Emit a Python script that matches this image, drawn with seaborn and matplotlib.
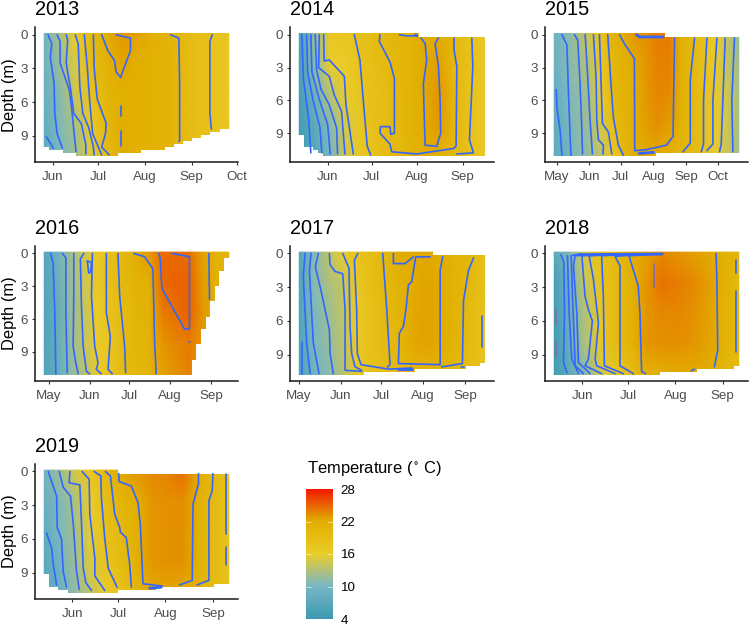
import numpy as np
import matplotlib
matplotlib.use("Agg")
import matplotlib.pyplot as plt
from matplotlib.colors import LinearSegmentedColormap, Normalize
from matplotlib.cm import ScalarMappable
import seaborn as sns

# ---------- DATA ----------
# temps: one column per survey date, values at surface / 3 / 5.5 / 8 / bottom
temps_2013 = [[9.5,9,8.5,8,7.5],[12.5,11.6,10.7,10.4,10],[16,15,14.5,12.5,12],[19.5,19,18,16.5,15],
              [21.5,21,20.5,20,19],[23,22.3,21.8,22,22],[22.5,21.8,21.6,21.6,21.6],[21.7,21.5,21.5,21.5,21.5],
              [20.8,21,21,21,21],[19.8,19.8,19.8,19.8,19.8],[18.8,18.8,18.8,18.8,18.8],[17.9,17.9,17.9,17.9,17.9],[17,17,17,17,17]]
temps_2014 = [[5.5,5.3,5,4.8,4.8],[11.5,11,8.8,7.3,6.8],[17,16,13.3,10.6,9.8],[17.3,16.3,16,15,14.6],
              [18.2,18,17.5,17.2,16.9],[19.6,19,18.7,18.6,18.4],[20.3,20.1,19.8,19.7,19.6],[21,20.8,20.7,20.6,20.5],
              [22,22,22,22,21.9],[22,22.6,23,22.8,21.5],[20.2,20.2,20.4,20.4,20.2],[18.1,18.2,18.3,18.2,18.1],[17,17,17,17,17]]
temps_2015 = [[9,8.8,8,7.7,7.5],[10.6,10.4,10,9.4,8.7],[12.3,11.6,11.2,11,10.7],[14.5,13.4,12.2,11.9,11.5],
              [18,16.8,16,14.8,13.7],[20.8,20.2,20,18.5,16.8],[22,21.4,21,20.9,20],[23,22,22,22,22],
              [23.3,23,22.9,22.7,22],[24,23.8,23.6,23.3,22],[24,23.8,23.4,22.6,21.3],[21.5,21.4,21.3,21.2,20.5],
              [20,20,20,20,19.6],[18,18.2,18.2,18.2,17.7],[16,16.3,16.5,16.5,15.8],[13.7,14.2,14.5,14.5,14.3],[11.5,12,12.5,12.5,12]]
temps_2016 = [[6.5,6.5,6.3,6.2,6.2],[9,8.3,8,7.9,8],[12,11.7,11.5,11.5,11],[14.5,14.3,14,13.8,13.2],
              [16.7,16.5,16.2,16.1,16.3],[18.6,18.4,18,17.5,17.5],[20.2,20,19.8,19.7,19.6],[22,21,20.6,20.5,20.3],
              [22.9,21.9,21.4,21.2,21],[24.8,24.8,24,23,22.5],[24.8,25,24.6,23.6,23.2],[24.6,25,25,24,23.8],
              [22.5,22.7,23,23,23],[21.4,21.5,21.5,21.5,21.5],[20.6,20.6,20.6,20.6,20.6]]
temps_2017 = [[6.5,6.3,6.2,6,5.8],[10.5,10.6,10.2,10,8.9],[13.5,12.7,11.8,11.5,10.8],[15.9,13.9,13.7,13.3,13],
              [18,16.8,16.5,16.5,16.9],[19,18.7,18.5,18.5,18.2],[20.2,19.9,19.7,19.4,19.2],[22,21.1,20.7,20.3,20.1],
              [22.2,22,22.2,22.2,20.3],[22.2,22.4,22.5,22.5,20.5],[22,22,22,22,20.5],[21,21,21,21,20],
              [20.1,19.9,19.5,19.2,19.2],[18.8,18.5,18,18,18]]
temps_2018 = [[7,5,5,4.5,4.6],[10.3,9.5,8.8,8.4,7.5],[15,14.2,13,12.9,11],[18.1,17.7,16.9,17,14.5],
              [20.1,19.5,19.6,19.5,17],[21.5,21.2,21,21,19],[22.5,23,23,23,21],[23.5,24.5,23.5,23.2,21.5],
              [23,24,23.5,23.3,22],[22.6,23.5,23.2,23,22],[22.2,22.7,22.5,22.5,21.8],[21.5,21.5,21.2,21.2,20.5],[20.5,20,20,20,19.8]]
temps_2019 = [[9.3,8.6,7.8,7,6.8],[12,10.3,10.2,9.3,8.6],[14.9,12.8,12.3,11.9,11.3],[17.4,16.1,15.7,15.2,13.9],
              [20,18.7,18.2,17.7,16],[22.2,20.6,20,19.3,18.3],[23,21.9,21.6,21.5,20.4],[23.5,23,22.9,22.9,22.2],
              [23.8,23.2,23.2,23.2,22.3],[24.6,23.4,23.2,23.2,22],[22.1,21.6,21.6,21.6,21],[19.9,19.6,19.5,19.5,19.5],[17.8,17.8,17.8,17.8,17.8]]

# survey range (day of year) and deepest reading of each year
first_days = {2013: 146.5, 2014: 132.7, 2015: 118.8, 2016: 118.5, 2017: 121.2, 2018: 133.5, 2019: 133.7}
last_days = {2013: 268.5, 2014: 258.8, 2015: 294.2, 2016: 258.4, 2017: 258.3, 2018: 254.5, 2019: 254.4}
max_depths = {2013: 10.81, 2014: 11.1, 2015: 11.1, 2016: 11.1, 2017: 10.81, 2018: 10.81, 2019: 10.81}

# water column bottom: (from day, depth)
bottom_2013 = [(146.5,9.98),(149.8,10.28),(159,10.54),(167.8,10.81),(195.3,10.54),(210.7,10.28),(226.1,10),(232,9.71),
               (238.2,9.44),(244.1,9.18),(250.3,8.91),(256.2,8.64),(262.4,8.38)]
bottom_2014 = [(132.7,9.18),(135.9,10.24),(142.2,10.55),(145.6,10.82),(148.6,11.1)]
bottom_2015 = [(118.8,11.1),(215.2,10.82)]
bottom_2016 = [(118.5,11.1),(230.4,9.75),(233.7,8.3),(237.5,6.9),(241.2,5.8),(244.5,4.36),(248.3,3),(251.3,1.6),(255.1,0.45)]
bottom_2017 = [(121.2,10.81),(169.2,10.54),(207,10.27),(244.7,10),(255.1,9.74)]
bottom_2018 = [(133.5,10.81),(203,10.54),(227.2,10.28),(251.6,10)]
bottom_2019 = [(133.7,9.15),(136.8,10.25),(142.9,10.54),(149,10.81),(182,10.54),(207,10.25),(245,9.98)]

# first reading drops below the surface after this day
top_steps = {2014: (214.5,0.18), 2015: (223.8,0.18), 2017: (220.5,0.15), 2019: (182,0.18)}

# isotherms: (day, depth)
lines_2013 = [
    [(148,9.1),(152.5,10.1)],
    [(149,0),(151.5,.8),(150.5,2),(153,4.3),(153.5,7),(155,8.8),(158.5,10.1)],
    [(155,0),(157,.6),(157,2.5),(163,4.9),(164.5,6.4),(167.5,10.4)],
    [(161,0),(162,.5),(161,2.5),(164,4.9),(166,7),(171,7.9),(174,9.8),(174,10.6)],
    [(167,0),(169,.8),(170,4.6),(172,7),(176,8.3),(179,10),(179.5,10.7)],
    [(173,0),(175,2.9),(176.5,5.8),(178.5,8.8),(184.5,10.7)],
    [(179,0),(179.5,2.9),(181.5,5.7),(187.5,7.9),(187,8.8),(184.5,10),(189.5,10.7)],
    [(184.5,0),(188.5,1.4),(193,2.3),(194,3.3),(197,3.8),(203.5,1.4),(203.5,.3),(194,0)],
    [(197,6.3),(197,7.2)],
    [(197,8.6),(197,9.9)],
    [(230,0),(235.5,.3),(236,4.3),(236,9.4),(235.5,9.5)],
    [(257.5,0),(256,.6),(256,7),(257,8.4)],
]
lines_2014 = [
    [(134.5,0),(135.5,4),(139,7.6),(140.6,10.8)],
    [(137.7,0),(138.4,3.4),(141.8,5.8),(146.8,8.5),(148.1,10.8)],
    [(140.6,0),(141.3,3.4),(146.3,5.9),(152,8.2),(153.8,10.9)],
    [(143.6,0),(144.5,3.2),(147.5,5),(153.1,6.4),(158.1,8.5),(158.8,10.9)],
    [(146.3,0),(145.9,3),(153.1,3.8),(156.5,5.5),(161.5,7),(163.8,10.9)],
    [(149.3,0),(149.7,2.4),(153.1,2.3),(163.4,3.8),(164.5,6.4),(169.5,10.9)],
    [(170.2,0),(174,2.3),(176.3,6),(179,10.2),(181.3,11)],
    [(187.7,0),(187.2,.6),(194.5,2.5),(197.5,4),(197.5,9),(195,9.1),(194.5,8.4),(188,8.4),(187.7,9),(194.5,10),
     (195.7,10.7),(212.7,10.9),(237.7,10.4),(239.5,10.2),(240,2.9),(238.1,1.4),(238.1,.3)],
    [(200.9,0),(205.9,.1),(212.7,.1)],
    [(215.6,.3),(218.4,.8),(219.5,2.3),(217.2,4.5),(218.4,10.1),(226.3,10.2),(229,9),(228.6,6),(227.5,2.9),(225.2,.8),(227.5,.3)],
    [(250.2,.3),(250.9,2.9),(248.6,9.6),(251.3,10.8),(240,10.9)],
]
lines_2015 = [
    [(120.7,5),(121.3,6.6),(124.5,8.8),(126.1,11)],
    [(126.1,0),(130.8,.9),(132.4,5.5),(134.6,11)],
    [(138.1,0),(141.2,.5),(143.4,4.6),(145,8.5),(145.7,10.9)],
    [(148.2,0),(150.7,4),(152.9,7.9),(155.1,10.9)],
    [(156.1,0),(158.6,4),(159.3,7.9),(160.8,9.6),(165.6,10.1),(165,10.9)],
    [(161.8,0),(163,3.4),(164.6,8.1),(170.3,8.9),(173.5,10.9)],
    [(169.7,0),(172.8,4.6),(175.1,7.6),(179.8,10.1),(184.5,11)],
    [(180.8,0),(186.1,.9),(195,2.2),(195.3,10.6),(206.4,10.5),(225.3,10.1),(231.7,9.3),(233.2,.3)],
    [(252.2,.3),(248.1,4.1),(248.1,9.9),(241.1,10.7)],
    [(263.9,.3),(260.7,6),(260.7,10),(258.5,10.7)],
    [(273.4,.3),(269.6,6),(269.6,10),(263.9,10.6)],
    [(281.3,.3),(277.5,10),(275.9,10.7)],
    [(290.1,.3),(287.6,6),(288.6,10.7)],
]
lines_2016 = [
    [(123.3,0),(125.2,.9),(126.5,5.4),(127.3,11)],
    [(132.3,0),(134.9,.4),(134.9,5.4),(135.9,10.9)],
    [(140.9,0),(140.9,3.9),(140.4,8.5),(142.4,10),(144.2,11)],
    [(148.5,0),(145.9,.5),(146.7,4.8),(148,8.5),(150.5,10.8),(153,11)],
    [(151.2,.7),(154.3,.8),(153.8,1.7),(152.2,1.8),(151.2,.7)],
    [(155,0),(154.3,3.9),(156.8,8.5),(159.3,10),(158,10.6),(161.8,11)],
    [(165.6,0),(165.6,5.4),(168.6,7.6),(166.9,10.6),(170.1,11)],
    [(174.4,0),(175.7,3.9),(179.5,8.5),(180.2,10.9)],
    [(186.3,0),(194.6,.3),(200.9,1.4),(202.2,8.2),(203.4,11)],
    [(205.4,0),(206.4,.45),(207.7,3.2),(224.8,6.9),(228.6,6.9),(228.6,.3),(215.5,0)],
    [(228.1,8.1),(229.1,8.1)],
    [(243.3,0),(243.8,4.2)],
]
lines_2017 = [
    [(123,7.9),(123,10.7)],
    [(125.4,0),(124.2,2.1),(126.7,8),(129.2,10.7)],
    [(129.9,0),(128.7,1.5),(131.6,8),(135.8,10.7)],
    [(135.3,0),(133.1,1.2),(137.3,3.3),(143.5,6.8),(144,8.9),(146.4,10.7)],
    [(143.5,0),(144,1),(147.7,1.6),(153.4,1.8),(155.1,5),(155.1,10.4),(167.4,10.5)],
    [(153.4,0),(158,1.3),(158.8,6.5),(160,8.9),(162.5,10.1),(167.4,10.4)],
    [(164.5,0),(162,.6),(163.7,5),(164.2,8.9),(166.9,9.9),(187.2,10.3),(204.5,10.2)],
    [(183,0),(186,5),(188.4,9.9),(186.5,10.1)],
    [(190.9,0),(190.9,.9),(199.5,.9),(205.7,.3)],
    [(218.1,.3),(207.4,.3),(204.5,2.5),(202,2.8),(200.3,4.9),(198.3,6.5),(195.3,7.1),(194.6,9.8),(225.5,9.9),(225.5,1.5),(227.4,.3)],
    [(250.2,.4),(246.5,1.5),(242.8,4.2),(242,9.8),(226.7,10.1)],
    [(240.8,10.1),(242.8,10.1)],
    [(256.3,5.6),(256.3,8.3)],
]
lines_2018 = [
    [(138,.1),(139.8,.8),(140.2,5.3),(139.6,9.7),(141.8,10.6)],
    [(142.2,.2),(143.3,5.3),(145,9.4),(149.4,10.7)],
    [(150,.05),(144.6,.2),(145.5,3.8),(146.8,8.3),(147.2,10),(152.7,10.7)],
    [(170,.05),(147.2,.2),(146.1,1.1),(148.3,5.3),(149.4,9.7),(157,10.7)],
    [(178,.05),(151.6,.2),(153.7,3.8),(155.9,5),(158.5,6),(155.9,9.4),(153.7,10),(164.6,10.7)],
    [(185,.05),(156.4,.2),(159.2,2.3),(162.5,6.2),(160.3,9.4),(161.4,10),(173.4,10.7)],
    [(190,.05),(164.6,.2),(165.7,3.8),(166.4,10),(178.8,10.7)],
    [(195,.05),(173.4,.25),(176.6,1.1),(176.6,10),(185.4,10.7)],
    [(204.8,.05),(182.5,.2),(188.6,2.9),(189.7,5.3),(190.8,10.5),(193.4,10.7)],
    [(239.6,0),(240.1,2.1),(240.7,8.6),(238.5,10.1)],
    [(252.7,.6),(252.7,1.7)],
    [(252.7,3.3),(252.7,8.8)],
    [(223.3,10.45),(225.5,10.3)],
]
lines_2019 = [
    [(135.3,5.5),(138.5,6.8),(139.6,8.3),(141.8,10.1)],
    [(136.3,0),(141.8,2.2),(142.2,5),(145,6),(146.1,8.9),(148.3,10.3)],
    [(143.5,0),(146.1,1.4),(150.9,2.2),(152.7,4.7),(154.8,8.9),(156.6,10.5)],
    [(150.5,0),(150,1),(157,1.2),(158.1,4.7),(159.2,8.6),(160.9,9.9),(164.6,10.6)],
    [(158.5,0),(163.1,.7),(163.5,3.8),(166.8,7.7),(166.8,9.3),(173.3,10.6)],
    [(166.4,0),(170.7,.4),(171.1,2.3),(173.3,6),(174.8,7.7),(175.5,8.6),(181.3,10.3)],
    [(173.7,0),(177,.4),(179.8,3.8),(183.1,5),(183.5,5.4),(187.4,5.9),(189.6,8.3),(190.7,10.3)],
    [(182.4,.2),(182.7,.9),(190.7,1.3),(195.1,2.8),(196.6,4.8),(198.3,10),(210.7,10.2)],
    [(234.6,.2),(234.6,1.1),(231,2.9),(230.5,9.7),(222.2,10.1)],
    [(244,.2),(243.6,1.7),(241.4,2.6),(241.4,9.7),(233.6,10.1)],
    [(252.7,.2),(252.7,5.6)],
    [(252.7,6.7),(252.7,8.3)],
]
# heavier overlaps where several isotherms run together
heavy_lines = {
    2014: [[(212,0),(212.7,.1)]],
    2015: [[(196.9,0),(200,.2),(222.2,.2)], [(199.4,10.85),(213.3,10.75)]],
    2017: [[(194.6,10.3),(204.5,10.3)]],
    2018: [[(150,.1),(204,.05)]],
    2019: [[(202.7,10.4),(210.3,10.3)]],
}
pale_lines = {2018: [[(134.6,5),(134.6,6.4)], [(134.6,7.9),(134.6,9.1)], [(198.7,.9),(198.7,3)]]}

month_names = ["May", "Jun", "Jul", "Aug", "Sep", "Oct"]
month_days = [121, 152, 182, 213, 244, 274]
month_days_leap = [122, 153, 183, 214, 245, 275]
depth_ticks = [0, 3, 6, 9]
legend_ticks = [4, 10, 16, 22, 28]
legend_marks = [10, 16, 22]
legend_colors = ["#3B9AB2", "#78B7C5", "#EBCC2A", "#E1AF00", "#F21A00"]

temps = {2013: temps_2013, 2014: temps_2014, 2015: temps_2015, 2016: temps_2016,
         2017: temps_2017, 2018: temps_2018, 2019: temps_2019}
bottoms = {2013: bottom_2013, 2014: bottom_2014, 2015: bottom_2015, 2016: bottom_2016,
           2017: bottom_2017, 2018: bottom_2018, 2019: bottom_2019}
lines = {2013: lines_2013, 2014: lines_2014, 2015: lines_2015, 2016: lines_2016,
         2017: lines_2017, 2018: lines_2018, 2019: lines_2019}

# ---------- STYLE ----------
sns.set_theme(style="white")
plt.rcParams["font.family"] = ["Liberation Sans", "DejaVu Sans"]
plt.rcParams["mathtext.default"] = "regular"
cmap = LinearSegmentedColormap.from_list("zissou", legend_colors)
W, H = 749, 625
BLUE = "#3366FF"

# axes boxes in pixels: left, top, right, bottom
boxes = {2013: (35, 27.3, 238, 162.3), 2014: (290, 27.3, 493.7, 162.3), 2015: (545, 27.3, 748, 162.3),
         2016: (35, 246, 238, 381), 2017: (290, 246, 493.7, 381), 2018: (545, 246, 748, 381),
         2019: (35, 464, 238, 599)}

fig = plt.figure(figsize=(W / 100, H / 100), dpi=100)


# ---------- PANELS ----------
def draw_panel(year):
    l, t, r, b = boxes[year]
    ax = fig.add_axes([l / W, 1 - b / H, (r - l) / W, (b - t) / H])
    grid = np.array(temps[year]).T
    first, last, deep = first_days[year], last_days[year], max_depths[year]
    sns.heatmap(grid, ax=ax, cmap=cmap, vmin=4, vmax=28, cbar=False, shading="gouraud",
                xticklabels=False, yticklabels=False)

    # the mesh runs on cell numbers, so days and depths go through these two
    def xp(day):
        return (np.asarray(day, dtype=float) - first) / (last - first) * (grid.shape[1] - 1)

    def yp(depth):
        return (np.asarray(depth, dtype=float) + 0.12) / (deep + 0.12) * (grid.shape[0] - 1)

    x_pad = (last - first) * 0.05
    y_pad = (deep + 0.12) * 0.05
    y_low, y_high = yp(deep + y_pad), yp(-0.12 - y_pad)
    ax.set_xlim(xp(first - x_pad), xp(last + x_pad))
    ax.set_ylim(y_low, y_high)

    # white over the part of the grid with no water, a little past the mesh ends
    steps = bottoms[year]
    step_x = [first - 1] + [p[0] for p in steps[1:]] + [last + 1]
    step_y = [p[1] for p in steps] + [steps[-1][1]]
    ax.fill_between(xp(step_x), yp(step_y), y_low, step="post", color="white", lw=0, zorder=2)
    if year in top_steps:
        day, depth = top_steps[year]
        ax.fill_between(xp([day, last + 1]), y_high, yp([depth, depth]), color="white", lw=0, zorder=2)

    for line in lines[year]:
        ax.plot(xp([p[0] for p in line]), yp([p[1] for p in line]), color=BLUE, lw=1.2, zorder=3)
    for line in heavy_lines.get(year, []):
        ax.plot(xp([p[0] for p in line]), yp([p[1] for p in line]), color=BLUE, lw=2.0, zorder=3)
    for line in pale_lines.get(year, []):
        ax.plot(xp([p[0] for p in line]), yp([p[1] for p in line]), color="#7C6DB8", lw=1.2, zorder=3)

    days = month_days_leap if year == 2016 else month_days
    shown = [(d, n) for d, n in zip(days, month_names) if first - x_pad <= d <= last + x_pad]
    ax.set_xticks(xp([s[0] for s in shown]))
    ax.set_xticklabels([s[1] for s in shown], rotation=0)
    ax.set_yticks(yp(depth_ticks))
    ax.set_yticklabels(depth_ticks, rotation=0)
    ax.tick_params(axis="both", which="major", labelsize=9.6, labelcolor="#4D4D4D", color="#333333",
                   length=2.4, width=0.8, bottom=True, left=True)
    ax.tick_params(axis="x", pad=4.2)
    ax.tick_params(axis="y", pad=2.5)
    for side in ["left", "bottom"]:
        ax.spines[side].set_visible(True)
        ax.spines[side].set_color("#1A1A1A")
        ax.spines[side].set_linewidth(1.1)
    ax.set_title(str(year), loc="left", fontsize=14.3, color="black", pad=8.5)
    if year in (2013, 2016, 2019):
        ax.set_ylabel("Depth (m)", fontsize=11.9, color="black", labelpad=2.5)
    return ax


for year in temps:
    draw_panel(year)

# ---------- LEGEND ----------
fig.text(307 / W, 1 - 473 / H, r"Temperature ($^\circ\,$C)", fontsize=11.9, color="black", va="baseline")
cax = fig.add_axes([306 / W, 1 - 619 / H, 26.7 / W, 130 / H])
cb = fig.colorbar(ScalarMappable(Normalize(4, 28), cmap), cax=cax, ticks=legend_ticks)
cb.outline.set_visible(False)
cax.tick_params(length=0, pad=5.8, labelsize=9.6, labelcolor="black")
cax.hlines(legend_marks, 0, 0.2, color="white", lw=0.4, transform=cax.get_yaxis_transform())
cax.hlines(legend_marks, 0.8, 1, color="white", lw=0.4, transform=cax.get_yaxis_transform())

fig.savefig("out.png", dpi=100)
